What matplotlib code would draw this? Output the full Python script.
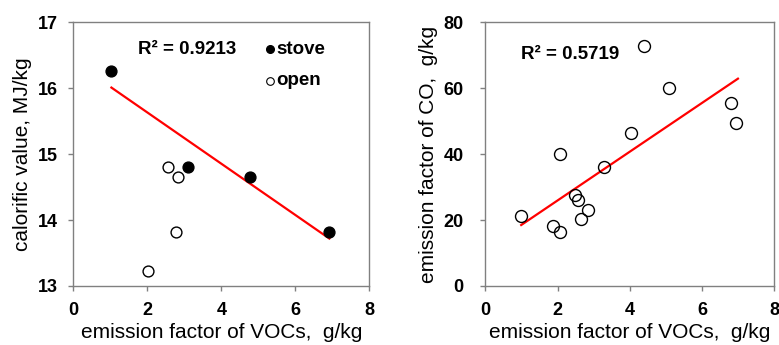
import matplotlib
matplotlib.use("Agg")
import matplotlib.pyplot as plt
import numpy as np

plt.rcParams['font.family'] = ['Liberation Sans', 'DejaVu Sans']

# Left panel data
stove_x = [1.03, 3.1, 4.77, 6.92]
stove_y = [16.26, 14.80, 14.66, 13.82]
open_x = [2.02, 2.57, 2.83, 2.78]
open_y = [13.22, 14.81, 14.66, 13.82]
left_fit_x = [1.03, 6.92]
left_fit_y = [16.01, 13.72]
left_r2 = "R² = 0.9213"

# Right panel data
co_x = [0.99, 1.86, 2.07, 2.07, 2.49, 2.56, 2.65, 2.83, 3.29, 4.03, 4.40, 5.09, 6.80, 6.94]
co_y = [21.2, 18.2, 16.5, 40.0, 27.6, 26.1, 20.3, 23.0, 36.0, 46.3, 72.7, 60.2, 55.4, 49.6]
right_fit_x = [0.99, 7.0]
right_fit_y = [18.5, 62.9]
right_r2 = "R² = 0.5719"

xlabel = "emission factor of VOCs,  g/kg"
left_ylabel = "calorific value, MJ/kg"
right_ylabel = "emission factor of CO,  g/kg"

fig = plt.figure(figsize=(7.79, 3.45), dpi=100)
ax1 = fig.add_axes([73.3/779, 1-286/345, (369.3-73.3)/779, (286-22.3)/345])
ax2 = fig.add_axes([485.5/779, 1-286/345, (774-485.5)/779, (286-22.3)/345])

ms = 7.8
tick_fs = 13
lab_fs = 15
txt_fs = 13.5
for ax in (ax1, ax2):
    for s in ax.spines.values():
        s.set_color('#808080')
        s.set_linewidth(1.0)
    ax.tick_params(direction='out', length=3.6, width=1.0, color='#808080',
                   labelsize=tick_fs)
    ax.tick_params(axis='x', pad=8)
ax1.tick_params(axis='y', pad=7.5)
ax2.tick_params(axis='y', pad=12)

ax1.plot(left_fit_x, left_fit_y, color='#ff0000', lw=1.6, zorder=2)
ax1.plot(stove_x, stove_y, 'o', ms=ms, mfc='black', mec='black', mew=1.0, zorder=3)
ax1.plot(open_x, open_y, 'o', ms=ms, mfc='white', mec='black', mew=1.0, zorder=3)
ax1.set_xlim(0, 8)
ax1.set_ylim(13, 17)
ax1.set_xticks([0, 2, 4, 6, 8])
ax1.set_yticks([13, 14, 15, 16, 17])
ax1.set_xlabel(xlabel, fontsize=lab_fs, labelpad=3)
ax1.set_ylabel(left_ylabel, fontsize=lab_fs, labelpad=4)
ax1.text(1.75, 16.59, left_r2, fontsize=txt_fs, fontweight='bold', va='center')
ax1.plot([5.32], [16.59], 'o', ms=5.5, mfc='black', mec='black', mew=1.0)
ax1.text(5.48, 16.59, "stove", fontsize=txt_fs, fontweight='bold', va='center')
ax1.plot([5.32], [16.11], 'o', ms=5.5, mfc='white', mec='black', mew=0.8)
ax1.text(5.48, 16.11, "open", fontsize=txt_fs, fontweight='bold', va='center')

ax2.plot(right_fit_x, right_fit_y, color='#ff0000', lw=1.6, zorder=2)
ax2.plot(co_x, co_y, 'o', ms=ms + 0.8, mfc='none', mec='black', mew=1.0, zorder=3)
ax2.set_xlim(0, 8)
ax2.set_ylim(0, 80)
ax2.set_xticks([0, 2, 4, 6, 8])
ax2.set_yticks([0, 20, 40, 60, 80])
ax2.set_xlabel(xlabel, fontsize=lab_fs, labelpad=3)
ax2.set_ylabel(right_ylabel, fontsize=lab_fs, labelpad=4)
ax2.text(0.99, 70.1, right_r2, fontsize=txt_fs, fontweight='bold', va='center')

for ax in (ax1, ax2):
    for lab in ax.get_xticklabels() + ax.get_yticklabels():
        lab.set_fontweight('bold')

fig.savefig("out.png", dpi=100)
